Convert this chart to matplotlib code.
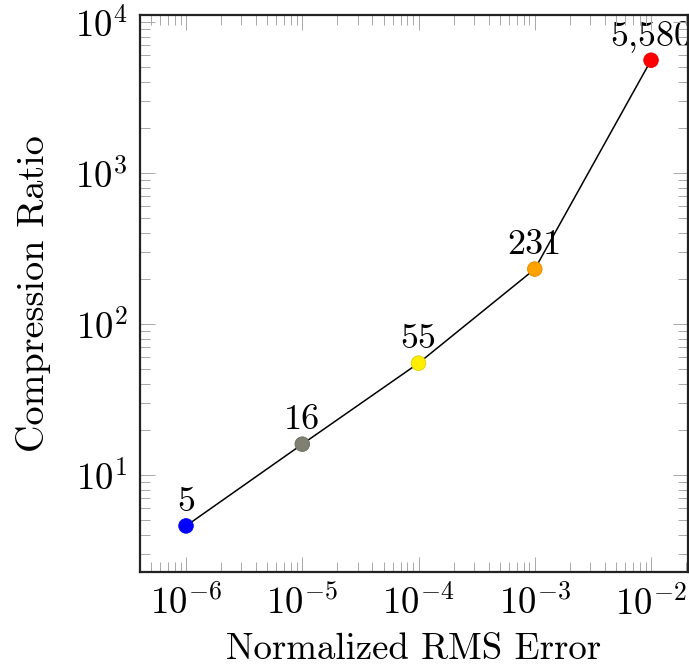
import numpy as np
import matplotlib
matplotlib.use("Agg")
import matplotlib.pyplot as plt
from matplotlib.ticker import FuncFormatter, LogLocator, NullFormatter

plt.rcParams['font.family'] = ['cmr10', 'DejaVu Serif']
plt.rcParams['mathtext.fontset'] = 'cm'
plt.rcParams['axes.unicode_minus'] = False
plt.rcParams['axes.formatter.use_mathtext'] = True

rms_error = [1e-6, 1e-5, 1e-4, 1e-3, 1e-2]
compression_ratio = [4.6, 16, 55, 231, 5580]
point_labels = ["5", "16", "55", "231", "5,580"]
point_colors = ["#0000ff", "#7f7f72", "#ffee00", "#ffa200", "#ff0000"]
edge_colors = ["#0000e0", "#6a6a60", "#e0cc00", "#e08a00", "#e00000"]

fig = plt.figure(figsize=(6.89, 6.66), dpi=100)
W, H = 689, 666
ax = fig.add_axes([140 / W, (H - 572) / H, (688 - 140) / W, (572 - 15) / H])

ax.set_xscale('log')
ax.set_yscale('log')
ax.set_xlim(10 ** -6.396, 10 ** -1.682)
ax.set_ylim(10 ** 0.3576, 10 ** 4.046)

ax.plot(rms_error, compression_ratio, color='black', lw=1.1, zorder=2)
ax.scatter(rms_error, compression_ratio, s=10.5 ** 2, c=point_colors,
           edgecolors=edge_colors, linewidths=0.6, zorder=3)
for x, y, lab in zip(rms_error, compression_ratio, point_labels):
    ax.annotate(lab, (x, y), xytext=(0, 6), textcoords='offset points',
                ha='center', va='bottom', fontsize=26, zorder=1,
                annotation_clip=False)

fmt = FuncFormatter(lambda v, p: rf'$10^{{{int(round(np.log10(v)))}}}$')
ax.xaxis.set_major_locator(LogLocator(base=10, numticks=20))
ax.yaxis.set_major_locator(LogLocator(base=10, numticks=20))
ax.xaxis.set_minor_locator(LogLocator(base=10, subs=np.arange(2, 10), numticks=20))
ax.yaxis.set_minor_locator(LogLocator(base=10, subs=np.arange(2, 10), numticks=20))
ax.xaxis.set_major_formatter(fmt)
ax.yaxis.set_major_formatter(fmt)
ax.xaxis.set_minor_formatter(NullFormatter())
ax.yaxis.set_minor_formatter(NullFormatter())

ax.tick_params(which='both', direction='in', top=True, right=True,
               color='#a8a8a8', labelsize=26.5, width=0.7)
ax.tick_params(which='major', length=11, pad=9)
ax.tick_params(which='minor', length=7)

for s in ax.spines.values():
    s.set_linewidth(1.6)
    s.set_color('#222222')

ax.set_xlabel('Normalized RMS Error', fontsize=26.5, labelpad=8)
ax.set_ylabel('Compression Ratio', fontsize=27.5, labelpad=17)

fig.savefig('out.png', dpi=100)
